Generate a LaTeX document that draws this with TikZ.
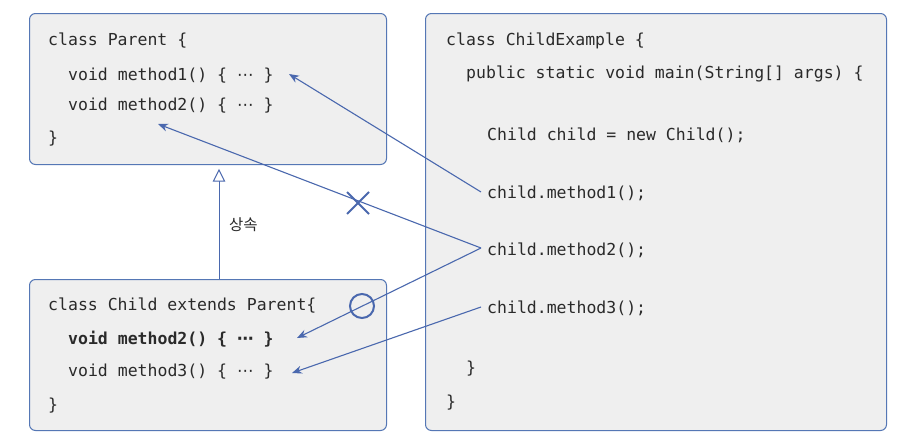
\documentclass[tikz,border=0pt]{standalone}
\usepackage{fontspec}
\setmainfont{DejaVu Sans}
\setmonofont{DejaVu Sans Mono}
\newfontfamily\dvs{DejaVu Sans}
\newfontfamily\kr{Noto Sans CJK KR}
\usetikzlibrary{arrows.meta,calc}
\definecolor{edge}{HTML}{5577B5}
\definecolor{line}{HTML}{4A68AE}
\definecolor{boxfill}{HTML}{EFEFEF}
\definecolor{txt}{HTML}{2A2A2A}
\tikzset{
  box/.style={draw=edge, line width=1pt, fill=boxfill, rounded corners=6pt, inner sep=0pt, anchor=north west},
  code/.style={anchor=west, inner sep=0pt, text=txt, font=\ttfamily\fontsize{16.5}{18}\selectfont},
  link/.style={draw=line, line width=1.1pt, -{Stealth[length=10pt,width=8pt]}},
  inherit/.style={draw=line, line width=1pt},
}
\newcommand{\mydots}{{\dvs ⋯}}
\begin{document}
\begin{tikzpicture}[x=1pt,y=-1pt]
\useasboundingbox[fill=white] (0,0) rectangle (905,442);
% boxes
\node[box, minimum width=357pt, minimum height=151pt] (parent) at (29,13) {};
\node[box, minimum width=357pt, minimum height=151pt] (child) at (29,279) {};
\node[box, minimum width=461pt, minimum height=417pt] (example) at (425,13) {};
% parent text
\node[code] (p0) at (48,41) {class Parent \{};
\node[code] (p1) at (68,76) {void method1() \{ \mydots\ \}};
\node[code] (p2) at (68,106) {void method2() \{ \mydots\ \}};
\node[code] (p3) at (48,139) {\}};
% child text
\node[code] (c0) at (48,306) {class Child extends Parent\{};
\node[code, font=\ttfamily\bfseries\fontsize{16.5}{18}\selectfont] (c1) at (68,339) {void method2() \{ {\bfseries\mydots}\ \}};
\node[code] (c2) at (68,372) {void method3() \{ \mydots\ \}};
\node[code] (c3) at (48,406) {\}};
% example text
\node[code] (e0) at (446,41) {class ChildExample \{};
\node[code] (e1) at (466,74) {public static void main(String[] args) \{};
\node[code] (e2) at (487,135) {Child child = new Child();};
\node[code] (e3) at (487,193) {child.method1();};
\node[code] (e4) at (487,250) {child.method2();};
\node[code] (e5) at (487,308) {child.method3();};
\node[code] (e6) at (466,369) {\}};
\node[code] (e7) at (446,403) {\}};
% targets
\coordinate (t1) at (289,74);
\coordinate (t2) at (158,124);
\coordinate (t3) at (297,338);
\coordinate (t4) at (292,373);
\coordinate (s1) at (481,192);
\coordinate (s2) at (481,248);
\coordinate (s3) at (481,307);
% connectors
\draw[link] (s1) -- (t1);
\draw[link] (s2) -- (t2);
\draw[link] (s2) -- (t3);
\draw[link] (s3) -- (t4);
% inheritance
\coordinate (inhTop) at (219,170);
\coordinate (inhBase) at (219,181);
\draw[inherit] (child.north west -| inhBase) -- (inhBase);
\draw[inherit, fill=white, line join=miter] (inhTop) -- ($(inhBase)+(-5.5,0)$) -- ($(inhBase)+(5.5,0)$) -- cycle;
\node[anchor=west, inner sep=0pt, text=txt, font=\kr\fontsize{15.5}{17}\selectfont] (lbl) at (229,225) {상속};
% X mark
\coordinate (xm) at (358,203);
\draw[draw=line, line width=2pt] ($(xm)+(-11,-11)$) -- ($(xm)+(11,11)$) ($(xm)+(-11,11)$) -- ($(xm)+(11,-11)$);
% circle mark
\node[draw=line, line width=2pt, circle, minimum size=24pt, inner sep=0pt] (ok) at (362,306) {};
\end{tikzpicture}
\end{document}
